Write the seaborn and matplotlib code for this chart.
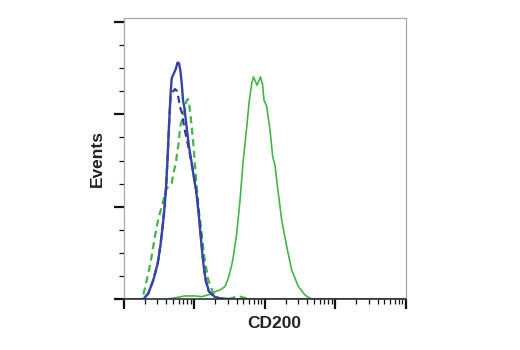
import numpy as np
import pandas as pd
import matplotlib
matplotlib.use("Agg")
import matplotlib.pyplot as plt
import seaborn as sns
from matplotlib.ticker import LogLocator, MultipleLocator, NullFormatter

sns.set_theme(style="white")
plt.rcParams["font.family"] = ["Liberation Sans Narrow", "Liberation Sans", "DejaVu Sans"]

# Histogram traces: log10 fluorescence intensity vs. event count
cd200_log = [0.0, 0.586, 0.681, 0.870, 1.011, 1.106, 1.224, 1.319, 1.366, 1.437, 1.484,
             1.532, 1.555, 1.603, 1.650, 1.696, 1.745, 1.782, 1.816, 1.841, 1.867,
             1.891, 1.916, 1.940, 1.969, 1.990, 2.028, 2.075, 2.113, 2.146, 2.193,
             2.241, 2.312, 2.383, 2.477, 2.572, 2.643, 2.714, 4.0]
cd200_events = [0, 0, 0.5, 1.8, 1.8, 1.4, 2.7, 4.5, 5.0, 6.9, 11.4,
                18.5, 23.0, 35.6, 53.7, 75.3, 93.3, 107.7, 116.7, 120.3, 118.0,
                115.8, 118.0, 120.3, 116.3, 107.7, 104.4, 91.5, 77.3, 72.3, 57.3,
                42.9, 28.5, 15.8, 6.9, 2.3, 0.5, 0, 0]

cd200_ctrl_log = [0.0, 0.255, 0.278, 0.349, 0.387, 0.444, 0.487, 0.539, 0.610, 0.681,
                  0.704, 0.738, 0.784, 0.799, 0.845, 0.894, 0.912, 0.926, 0.955,
                  0.987, 1.011, 1.058, 1.106, 1.146, 1.200, 1.271, 1.342, 1.479,
                  1.579, 1.650, 1.721, 1.791, 4.0]
cd200_ctrl_events = [0, 0, 2.3, 14.1, 21.2, 34.2, 42.9, 50.1, 60.0, 62.7,
                     68.1, 73.5, 86.1, 93.1, 99.6, 107.7, 108.3, 106.6, 96.9,
                     84.5, 72.6, 50.1, 35.7, 22.3, 10.4, 3.2, 0.5, 0,
                     1.2, 1.5, 0.7, 0, 0]

neg_log = [0.0, 0.278, 0.349, 0.420, 0.482, 0.522, 0.550, 0.576, 0.600, 0.621, 0.643,
           0.664, 0.681, 0.713, 0.738, 0.763, 0.784, 0.803, 0.823, 0.841, 0.862,
           0.894, 0.926, 0.965, 1.001, 1.026, 1.058, 1.092, 1.129, 1.163, 1.210,
           1.295, 1.366, 1.550, 4.0]
neg_events = [0, 0, 3.2, 10.4, 19.4, 29.4, 38.6, 48.3, 60.2, 75.3, 94.2,
              110.4, 119.6, 122.3, 124.5, 128.0, 127.7, 124.0, 116.9, 107.7, 103.4,
              92.6, 82.6, 73.6, 64.5, 59.1, 48.3, 33.9, 19.6, 10.4, 4.2,
              1.2, 0.5, 0, 0]

neg_ctrl_log = [0.0, 0.278, 0.349, 0.420, 0.482, 0.522, 0.550, 0.576, 0.600, 0.621,
                0.643, 0.664, 0.692, 0.728, 0.756, 0.777, 0.799, 0.827, 0.860, 0.898,
                0.940, 0.976, 1.011, 1.047, 1.082, 1.118, 1.153, 1.196, 1.267,
                1.366, 1.550, 4.0]
neg_ctrl_events = [0, 0, 3.2, 10.4, 19.4, 29.4, 38.6, 48.3, 60.2, 75.3,
                   94.2, 109.3, 112.0, 113.7, 112.6, 108.8, 104.0, 100.7, 92.6, 86.1,
                   78.0, 70.8, 63.4, 53.7, 40.2, 24.0, 12.1, 5.0, 1.8,
                   0.4, 0, 0]

traces = [
    ("CD200", cd200_log, cd200_events, "#43b549", "-", 1.2),
    ("CD200 isotype", cd200_ctrl_log, cd200_ctrl_events, "#43b549", "--", 1.6),
    ("Negative isotype", neg_ctrl_log, neg_ctrl_events, "#2e3a94", "--", 1.6),
    ("Negative", neg_log, neg_events, "#3545a3", "-", 1.7),
]

fig = plt.figure(figsize=(5.2, 3.5), dpi=100)
ax = fig.add_axes([0.2379, 0.1449, 0.5423, 0.8051])

for name, lg, ev, color, ls, lw in traces:
    df = pd.DataFrame({"intensity": 10 ** np.asarray(lg), "events": ev})
    sns.lineplot(data=df, x="intensity", y="events", ax=ax, color=color,
                 linewidth=lw, sort=False, estimator=None, legend=False)
    ln = ax.get_lines()[-1]
    if ls == "--":
        ln.set_dashes((3.2, 2.0))

ax.set_xscale("log")
ax.set_xlim(1, 1e4)
ax.set_ylim(0, 152.4)

ax.xaxis.set_major_locator(LogLocator(base=10, numticks=10))
ax.xaxis.set_minor_locator(LogLocator(base=10, subs=np.arange(2, 10), numticks=50))
ax.xaxis.set_major_formatter(NullFormatter())
ax.xaxis.set_minor_formatter(NullFormatter())
ax.yaxis.set_major_locator(MultipleLocator(50))
ax.yaxis.set_minor_locator(MultipleLocator(12.5))
ax.yaxis.set_major_formatter(NullFormatter())

ax.tick_params(axis="both", which="major", direction="out", length=7, width=1.6,
               color="#111111", bottom=True, left=True)
ax.tick_params(axis="both", which="minor", direction="out", length=3.5, width=0.9,
               color="#111111", bottom=True, left=True)

for side in ["left", "top", "right"]:
    ax.spines[side].set_color("#a8a8a8")
    ax.spines[side].set_linewidth(0.9)
ax.spines["bottom"].set_color("#333333")
ax.spines["bottom"].set_linewidth(1.2)

ax.set_xlabel("CD200", fontsize=12.5, fontweight="bold", color="#222222")
ax.set_ylabel("Events", fontsize=12.5, fontweight="bold", color="#222222")
ax.xaxis.set_label_coords(0.533, -0.058)
ax.yaxis.set_label_coords(-0.066, 0.5)

fig.savefig("out.png", dpi=100)
